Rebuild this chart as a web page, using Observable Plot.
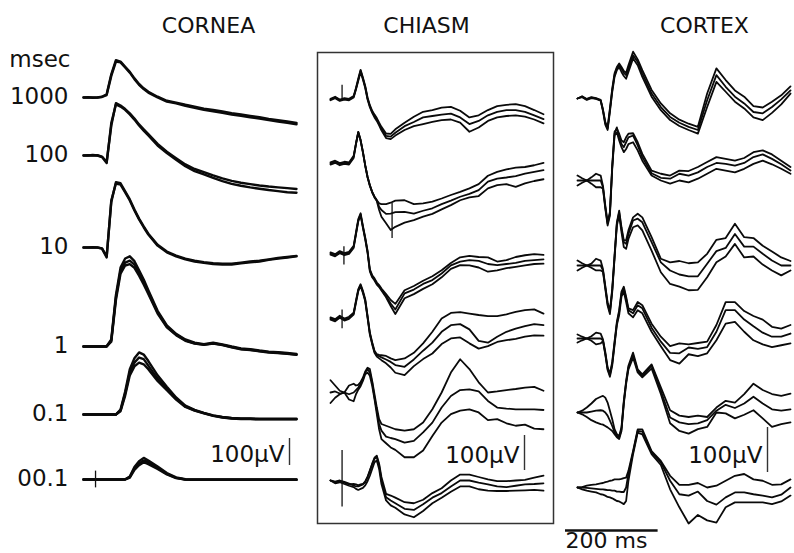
<!DOCTYPE html>
<html><head><meta charset="utf-8">
<script src="https://cdn.jsdelivr.net/npm/d3@7"></script>
<script src="https://cdn.jsdelivr.net/npm/@observablehq/plot@0.6"></script>
<style>
body{margin:0;background:#fff;}
#fig{position:relative;width:794px;height:553px;overflow:hidden;background:#fff;}
#fig svg{position:absolute;left:0;top:0;}
</style></head><body><div id="fig"></div>
<script>
// ---------- data (time in ms, amplitude in µV relative to each trace's baseline) ----------
const rowLabels = ["1000","100","10","1","0.1","00.1"];
const columnTitles = ["CORNEA","CHIASM","CORTEX"];
const corneaTime = [0,10,20,30,40,50,60,70,80,90,100,110,120,130,140,160,180,200,220,240,260,280,300,320,340,360,380,400,420,440,460];
const fineTime = [0,10,20,30,40,50,55,60,65,70,75,80,85,90,95,100,105,110,120,130,140,160,180,200,220,240,260,280,300,320,340,360,380,400,420,440,460];

const cornea1000 = [
 [0,0,0,0,2,9,80,133,130,111,92,68,47,31,18,0,-15,-22,-31,-38,-46,-51,-57,-63,-68,-73,-78,-84,-89,-94,-99],
 [0,1,-1,0,3,12,86,138,133,114,95,71,50,34,21,3,-12,-19,-27,-34,-41,-46,-52,-58,-63,-68,-73,-79,-84,-89,-94]];
const cornea100 = [
 [0,0,2,0,-6,-28,120,189,181,169,152,133,111,92,74,37,9,-16,-40,-58,-70,-83,-95,-105,-112,-118,-123,-128,-132,-136,-138],
 [0,1,0,1,-4,-24,110,194,185,172,156,137,115,97,79,43,14,-10,-33,-50,-62,-74,-85,-94,-101,-106,-111,-115,-118,-121,-124]];
const cornea10 = [
 [0,0,0,0,-4,-37,174,237,233,204,174,137,104,75,48,7,-18,-33,-44,-52,-57,-61,-63,-63,-59,-55,-52,-46,-41,-37,-33],
 [0,0,1,0,-3,-33,168,242,238,208,178,141,107,78,51,10,-15,-30,-41,-49,-54,-58,-60,-60,-56,-52,-49,-44,-39,-35,-31]];
const cornea1 = [
 [0,0,0,0,0,0,22,181,281,311,318,303,271,238,201,127,74,44,23,12,7,12,6,-2,-9,-12,-17,-21,-23,-26,-30],
 [0,0,0,0,0,1,26,190,292,326,334,316,282,248,208,132,78,47,26,14,9,14,8,0,-7,-10,-15,-19,-21,-24,-28],
 [0,0,0,0,0,0,18,172,270,300,305,291,262,230,195,122,71,42,21,11,6,11,5,-3,-10,-13,-18,-22,-24,-27,-31]];
const cornea01 = [
 [0,0,0,0,0,0,0,0,15,78,156,192,211,205,181,133,96,59,30,15,5,-4,-10,-14,-16,-16,-17,-17,-17,-17,-17],
 [0,0,0,0,0,0,0,0,18,85,168,208,230,222,198,145,103,63,33,17,6,-3,-9,-13,-15,-15,-16,-16,-16,-16,-16],
 [0,0,0,0,0,0,0,0,12,70,145,178,192,186,168,124,90,55,28,14,4,-5,-11,-15,-17,-17,-18,-18,-18,-18,-18]];
const cornea001 = [
 [0,0,0,0,0,0,0,0,0,0,9,41,60,70,64,43,21,6,0,-1,-1,-1,-1,-1,-1,-1,-1,-1,-1,-1,-1],
 [0,0,0,0,0,0,0,0,0,1,11,46,68,80,70,48,24,8,1,0,0,0,0,0,0,0,0,0,0,0,0],
 [0,0,0,0,0,0,0,0,0,0,7,36,53,64,57,39,19,5,0,-1,-1,-1,-1,-1,-1,-1,-1,-1,-1,-1,-1]];

const chiasm1000 = [
 [-1,5,-3,1,-1,7,30,57,82,60,36,3,-19,-35,-46,-56,-69,-81,-100,-101,-88,-69,-52,-38,-33,-26,-24,-35,-54,-48,-33,-22,-18,-16,-22,-33,-45],
 [-3,3,-5,-1,-3,5,28,54,79,57,33,0,-22,-38,-50,-60,-73,-86,-107,-109,-98,-79,-67,-54,-50,-46,-43,-54,-73,-64,-48,-38,-33,-33,-38,-48,-59],
 [-5,1,-7,-3,-5,3,26,51,76,54,30,-3,-25,-41,-54,-64,-77,-91,-113,-116,-106,-90,-79,-73,-67,-62,-60,-69,-95,-83,-64,-54,-50,-48,-52,-60,-71]];
const chiasm100 = [
 [3,8,1,5,3,22,57,90,67,33,-5,-38,-62,-81,-95,-105,-114,-116,-116,-112,-106,-105,-116,-114,-109,-100,-90,-81,-71,-59,-35,-24,-17,-12,-10,-5,2],
 [0,5,-2,2,0,19,57,90,67,33,-5,-38,-62,-81,-95,-105,-124,-133,-144,-143,-139,-138,-143,-135,-128,-116,-106,-95,-87,-76,-52,-43,-40,-36,-29,-24,-19],
 [-3,2,-5,-1,-3,16,55,88,65,31,-7,-40,-64,-83,-97,-107,-133,-152,-171,-190,-181,-169,-162,-152,-144,-131,-119,-105,-97,-93,-71,-62,-59,-67,-57,-50,-45]];
const chiasm10 = [
 [3,-2,7,1,5,22,60,98,115,79,46,8,-45,-62,-71,-83,-90,-100,-116,-133,-144,-105,-93,-78,-65,-48,-27,-11,-7,-10,-11,-23,-19,-10,-5,-2,-4],
 [0,-5,4,-2,2,19,57,95,112,76,43,5,-48,-65,-74,-86,-93,-103,-122,-143,-160,-114,-103,-87,-76,-57,-34,-23,-19,-21,-30,-33,-30,-27,-21,-19,-17],
 [-3,-8,1,-5,-1,16,54,92,109,73,40,2,-51,-68,-77,-89,-96,-106,-125,-150,-173,-128,-116,-101,-88,-68,-44,-33,-34,-40,-52,-48,-42,-38,-34,-30,-29]];
const chiasm1 = [
 [3,-2,8,0,5,17,51,84,98,79,55,8,-40,-68,-92,-102,-104,-105,-107,-114,-119,-114,-98,-71,-38,0,16,18,14,10,7,7,12,19,24,26,14],
 [0,-5,5,-3,2,14,48,81,95,76,52,5,-43,-71,-95,-105,-108,-111,-117,-124,-133,-138,-117,-92,-69,-38,-19,-16,-31,-64,-69,-52,-38,-29,-22,-16,-19],
 [-3,-8,2,-6,-1,11,45,78,92,73,49,2,-46,-74,-98,-109,-114,-119,-128,-140,-155,-162,-136,-116,-100,-73,-57,-54,-71,-86,-79,-67,-62,-58,-52,-48,-49]];
const chiasm01 = [
 [35,20,5,0,20,25,20,22,30,42,60,71,67,33,-5,-43,-76,-90,-95,-100,-105,-109,-105,-86,-48,0,57,95,67,29,0,3,7,10,14,16,5],
 [0,3,-3,0,-5,0,7,14,24,38,57,67,57,29,-14,-52,-90,-109,-126,-130,-133,-143,-138,-114,-86,-43,-10,7,9,3,-24,-43,-46,-48,-48,-48,-50],
 [-30,-15,-5,0,-20,-25,-5,8,18,33,52,57,48,19,-19,-62,-105,-133,-145,-157,-164,-185,-185,-166,-124,-86,-62,-52,-48,-57,-79,-76,-88,-95,-92,-103,-105]];
const chiasm001 = [
 [0,-3,0,-4,-9,-14,-17,-17,-14,-11,-5,10,29,48,65,71,48,10,-38,-43,-49,-62,-65,-55,-36,-22,0,17,17,10,3,-2,-2,0,2,8,14],
 [0,-5,-2,-6,-11,-10,-11,-14,-11,-10,-2,10,27,46,62,67,43,0,-48,-57,-65,-81,-84,-68,-49,-36,-17,0,0,-6,-11,-17,-19,-15,-11,-10,-8],
 [0,-8,-5,-10,-15,-19,-24,-27,-24,-21,-14,-2,14,33,52,57,33,-10,-57,-71,-78,-97,-105,-87,-65,-49,-32,-17,-17,-25,-29,-30,-30,-29,-28,-27,-29]];

const cortex1000 = [
 [0,4,-2,2,0,-4,-26,-55,-67,-26,18,52,67,74,67,57,52,67,96,81,56,11,-19,-41,-54,-63,-70,-4,52,26,4,-11,-30,-33,-19,-2,18],
 [0,5,-1,3,1,-3,-24,-52,-64,-22,22,56,70,78,70,61,57,74,104,87,63,19,-11,-33,-47,-56,-63,11,67,41,18,4,-17,-20,-7,7,27],
 [0,3,-3,1,-1,-5,-28,-58,-70,-30,14,48,63,70,59,50,44,59,89,74,48,4,-26,-48,-61,-70,-78,-19,37,15,-7,-22,-42,-48,-32,-13,11]];
const cortex100 = [
 [0,0,0,0,0,0,-15,-59,-96,-74,30,104,118,96,81,74,85,96,100,78,52,16,6,4,15,11,18,30,39,37,33,39,52,58,48,36,22],
 [11,5,0,7,15,11,-12,-55,-92,-70,33,108,115,104,89,85,96,104,105,85,59,22,15,11,22,21,30,41,52,48,44,50,63,67,58,44,30],
 [-11,-5,0,-7,-15,-15,-18,-62,-100,-78,26,100,107,89,74,63,70,81,85,67,44,11,0,-7,0,-4,4,15,26,22,18,26,37,44,36,26,15]];
const cortex10 = [
 [0,0,0,0,0,0,-11,-48,-85,-104,-55,19,93,118,81,52,48,70,100,104,96,52,7,-11,-20,-24,-24,4,32,39,70,42,42,26,11,0,0],
 [11,5,0,4,15,11,-8,-45,-82,-100,-52,22,96,122,85,56,56,78,107,115,107,63,15,7,10,5,7,26,57,61,93,63,61,44,31,18,10],
 [-11,-5,0,-5,-11,-11,-14,-52,-89,-108,-59,15,89,111,74,41,37,59,85,89,78,33,-15,-41,-47,-55,-54,-26,7,20,48,18,20,2,-11,-22,-11]];
const cortex1 = [
 [0,0,0,0,0,0,-4,-33,-67,-81,-56,-11,33,59,100,111,89,63,56,74,67,24,-7,-32,-33,-20,-23,-19,15,63,63,42,27,13,4,4,11],
 [9,4,0,5,13,11,-2,-30,-64,-78,-52,-7,37,63,104,115,93,67,63,81,74,33,4,-17,-11,-13,-10,-7,30,81,81,61,50,42,26,22,30],
 [-9,-4,0,-5,-13,-11,-6,-36,-70,-85,-60,-15,30,52,93,104,81,56,47,63,56,15,-17,-48,-56,-35,-39,-33,-4,33,37,15,-4,-13,-19,-15,-11]];
const cortex01 = [
 [0,4,11,20,30,35,37,33,22,4,-15,-37,-48,-52,-33,26,70,104,133,96,85,107,56,5,-7,-10,-7,-10,11,26,22,41,64,50,41,37,42],
 [0,0,0,2,4,5,4,0,-7,-18,-30,-44,-52,-55,-37,22,67,100,128,93,81,104,48,-11,-22,-26,-24,-17,4,17,10,20,35,20,7,4,7],
 [0,-4,-10,-17,-22,-26,-27,-30,-33,-37,-41,-48,-55,-59,-41,19,63,96,122,89,78,98,41,-24,-41,-47,-37,-32,0,-2,-13,-5,5,-13,-32,-26,-22]];
const cortex001 = [
 [0,1,4,6,7,9,10,12,13,15,16,18,18,18,19,21,22,37,81,129,129,81,59,26,6,6,10,0,4,15,26,30,18,15,6,7,18],
 [0,0,-1,-2,-3,-4,-4,-5,-6,-6,-7,-7,-9,-9,-10,-10,0,30,78,126,124,78,56,15,-15,-18,-9,-30,-38,-22,-11,-11,-15,-18,-22,-16,0],
 [0,-4,-7,-9,-11,-15,-16,-18,-21,-22,-24,-27,-30,-31,-34,-37,-30,15,74,122,118,74,50,-4,-44,-80,-61,-73,-78,-44,-33,-33,-33,-33,-37,-31,-18]];

// stimulus artefacts (vertical ticks): column, row index, time (ms), µV range
const artifacts = [
 {column:"CORNEA", row:5, t:26, lo:-31, hi:31},
 {column:"CHIASM", row:0, t:25, lo:0, hi:38},
 {column:"CHIASM", row:1, t:133, lo:-214, hi:-114},
 {column:"CHIASM", row:2, t:29, lo:-33, hi:19},
 {column:"CHIASM", row:3, t:25, lo:-29, hi:24},
 {column:"CHIASM", row:5, t:25, lo:-76, hi:86}
];
const calibrationUV = 100;   // vertical scale bars
const calibrationMS = 200;   // horizontal time bar

// ---------- layout ----------
const W = 794, H = 553, SPAN = 460, SPANPX = 213;
const FONT = "DejaVu Sans, Verdana, sans-serif";
const panels = [
 {title:columnTitles[0], time:corneaTime, rows:[cornea1000,cornea100,cornea10,cornea1,cornea01,cornea001],
  x0:83, pxPer100:27, baselines:[97,155,247,346,414,479], sw:2.4, titleX:208, bar:{x:289,bottom:465,textEnd:284,textMid:454.6}, labels:true},
 {title:columnTitles[1], time:fineTime, rows:[chiasm1000,chiasm100,chiasm10,chiasm1,chiasm01,chiasm001],
  x0:330, pxPer100:35, baselines:[98,163,253,318,392,480], sw:1.8, titleX:426, bar:{x:524,bottom:470,textEnd:519,textMid:455.6}, frame:[317,52,553,523]},
 {title:columnTitles[2], time:fineTime, rows:[cortex1000,cortex100,cortex10,cortex1,cortex01,cortex001],
  x0:577, pxPer100:45, baselines:[98,180,265,338,412,487], sw:1.8, titleX:704, bar:{x:767,bottom:472,textEnd:762,textMid:455.6}, timeBar:{x:565,y:530,textMid:540.5}}
];

const fig = document.getElementById("fig");
for (const p of panels) {
  const uv = 100 / p.pxPer100;
  const tOf = px => (px - p.x0) * SPAN / SPANPX;
  const uOf = py => (H - py) * uv;
  const off = p.baselines.map(uOf);
  const pts = [];
  p.rows.forEach((traces, r) => traces.forEach((vals, k) =>
    vals.forEach((v, i) => pts.push({t: p.time[i], u: off[r] + v, id: r + "-" + k}))));
  const marks = [
    Plot.line(pts, {x:"t", y:"u", z:"id", stroke:"#0a0a0a", strokeWidth:p.sw, strokeLinejoin:"round", strokeLinecap:"round"}),
    Plot.ruleX(artifacts.filter(a => a.column === p.title), {x:"t", y1: a => off[a.row] + a.lo, y2: a => off[a.row] + a.hi, stroke:"#111", strokeWidth:1.3}),
    Plot.text([p.title], {x: () => tOf(p.titleX), y: () => uOf(25), text: d => d, fontSize:22, fontFamily:FONT, textAnchor:"middle", fill:"#111"}),
    Plot.ruleX([{t: tOf(p.bar.x), lo: uOf(p.bar.bottom)}], {x:"t", y1:"lo", y2: d => d.lo + calibrationUV, stroke:"#333", strokeWidth:1.4}),
    Plot.text([calibrationUV + "μV"], {x: () => tOf(p.bar.textEnd), y: () => uOf(p.bar.textMid), text: d => d, fontSize:23, fontFamily:FONT, textAnchor:"end", fill:"#111"})
  ];
  if (p.labels) {
    marks.push(Plot.text(rowLabels, {x: () => 0, y: (d, i) => off[i], text: d => d, dx:-15, dy:-1, fontSize:23, fontFamily:FONT, textAnchor:"end", fill:"#111"}));
    marks.push(Plot.text(["msec"], {x: () => 0, y: () => uOf(59.6), text: d => d, dx:-13, fontSize:23, fontFamily:FONT, textAnchor:"end", fill:"#111"}));
  }
  if (p.timeBar) {
    const t0 = tOf(p.timeBar.x);
    marks.push(Plot.ruleY([{t0, u: uOf(p.timeBar.y)}], {y:"u", x1:"t0", x2: d => d.t0 + calibrationMS, stroke:"#111", strokeWidth:2.5}));
    marks.push(Plot.text([calibrationMS + " ms"], {x: () => t0, y: () => uOf(p.timeBar.textMid), text: d => d, fontSize:22, fontFamily:FONT, textAnchor:"start", fill:"#111"}));
  }
  let margins = {marginLeft:0, marginRight:0, marginTop:0, marginBottom:0};
  if (p.frame) {
    const [l, t, r, b] = p.frame;
    margins = {marginLeft:l, marginRight:W - r, marginTop:t, marginBottom:H - b};
    marks.unshift(Plot.frame({stroke:"#333", strokeWidth:1.5}));
  }
  const svg = Plot.plot({
    width:W, height:H, ...margins,
    x:{domain:[0, SPAN], range:[p.x0, p.x0 + SPANPX], axis:null},
    y:{domain:[0, H * uv], range:[H, 0], axis:null},
    style:{background:"transparent", fontFamily:FONT, overflow:"visible"},
    marks
  });
  svg.style.position = "absolute"; svg.style.left = "0"; svg.style.top = "0";
  fig.appendChild(svg);
}
</script></body></html>
